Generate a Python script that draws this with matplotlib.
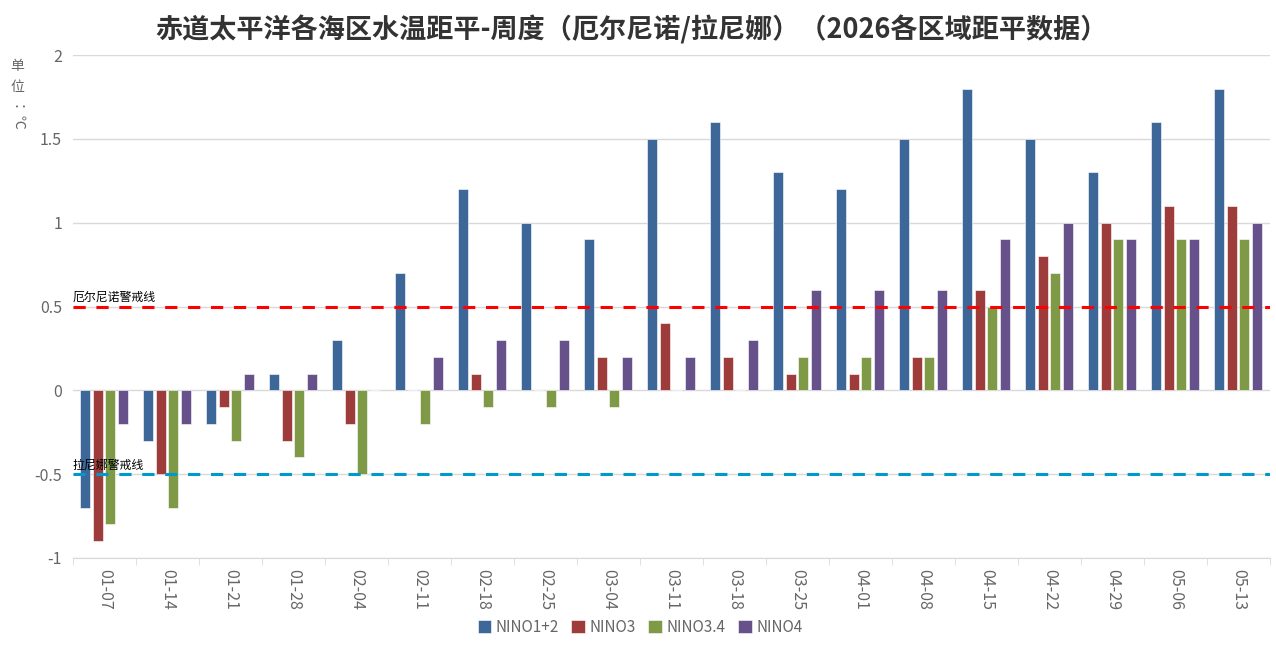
import numpy as np
import matplotlib
matplotlib.use("Agg")
import matplotlib.pyplot as plt

plt.rcParams['font.family'] = ['Noto Sans CJK SC', 'DejaVu Sans']

weeks = ["01-07", "01-14", "01-21", "01-28", "02-04", "02-11", "02-18", "02-25", "03-04", "03-11",
         "03-18", "03-25", "04-01", "04-08", "04-15", "04-22", "04-29", "05-06", "05-13"]
nino12 = [-0.7, -0.3, -0.2, 0.1, 0.3, 0.7, 1.2, 1.0, 0.9, 1.5, 1.6, 1.3, 1.2, 1.5, 1.8, 1.5, 1.3, 1.6, 1.8]
nino3 = [-0.9, -0.5, -0.1, -0.3, -0.2, 0.0, 0.1, 0.0, 0.2, 0.4, 0.2, 0.1, 0.1, 0.2, 0.6, 0.8, 1.0, 1.1, 1.1]
nino34 = [-0.8, -0.7, -0.3, -0.4, -0.5, -0.2, -0.1, -0.1, -0.1, 0.0, 0.0, 0.2, 0.2, 0.2, 0.5, 0.7, 0.9, 0.9, 0.9]
nino4 = [-0.2, -0.2, 0.1, 0.1, 0.0, 0.2, 0.3, 0.3, 0.2, 0.2, 0.3, 0.6, 0.6, 0.6, 0.9, 1.0, 0.9, 0.9, 1.0]
series_names = ["NINO1+2", "NINO3", "NINO3.4", "NINO4"]
el_nino_line = 0.5
la_nina_line = -0.5

colors = ["#3D6699", "#9E3C3B", "#7E9A46", "#67518A"]

fig = plt.figure(figsize=(12.76, 6.51), dpi=100)
ax = fig.add_axes([73 / 1276, 1 - 558 / 651, (1270 - 73) / 1276, (558 - 55) / 651])

x = np.arange(len(weeks))
bw = 0.16
step = 0.2
for i, (vals, name, c) in enumerate(zip([nino12, nino3, nino34, nino4], series_names, colors)):
    ax.bar(x + (i - 1.5) * step - 0.01, vals, width=bw, color=c, edgecolor="white", linewidth=0.4,
           label=name, zorder=3)

ax.axhline(el_nino_line, color="#FF0000", linestyle=(0, (4, 3.5)), linewidth=2.2, zorder=4)
ax.axhline(la_nina_line, color="#0099CC", linestyle=(0, (4, 3.5)), linewidth=2.2, zorder=4)
ax.text(-0.5, el_nino_line + 0.015, "厄尔尼诺警戒线", fontsize=8.6, color="black", va="bottom", ha="left", zorder=5)
ax.text(-0.5, la_nina_line + 0.015, "拉尼娜警戒线", fontsize=8.6, color="black", va="bottom", ha="left", zorder=5)

ax.set_xlim(-0.5, len(weeks) - 0.5)
ax.set_ylim(-1, 2)
ax.set_yticks([-1, -0.5, 0, 0.5, 1, 1.5, 2])
ax.set_yticklabels(["-1", "-0.5", "0", "0.5", "1", "1.5", "2"])
ax.grid(axis="y", color="#D9D9D9", linewidth=1, zorder=0)
ax.set_axisbelow(True)

ax.set_xticks(x)
ax.set_xticklabels(weeks)
ax.set_xticks(np.arange(len(weeks) + 1) - 0.5, minor=True)
ax.tick_params(axis="x", which="major", length=0, pad=8, labelsize=11.5, labelcolor="#666666",
               labelrotation=270)
ax.tick_params(axis="x", which="minor", length=5, color="#D9D9D9")
ax.tick_params(axis="y", length=0, labelsize=11.5, labelcolor="#666666", pad=8)

for s in ["top", "right", "left"]:
    ax.spines[s].set_visible(False)
ax.spines["bottom"].set_color("#D9D9D9")

fig.text(632 / 1276, 1 - 30 / 651, "赤道太平洋各海区水温距平-周度（厄尔尼诺/拉尼娜）（2026各区域距平数据）",
         ha="center", va="center", fontsize=19.5, fontweight="bold", color="#333333")

fig.text(17 / 1276, 1 - 66 / 651, "单", ha="center", va="center", fontsize=10, color="#666666")
fig.text(17 / 1276, 1 - 87 / 651, "位", ha="center", va="center", fontsize=10, color="#666666")
fig.text(17 / 1276, 1 - 118 / 651, "：℃", ha="center", va="center", fontsize=10, color="#666666", rotation=270)

ax.legend(loc="center", bbox_to_anchor=(640 / 1276, 1 - 627 / 651), bbox_transform=fig.transFigure,
          ncol=4, frameon=False, fontsize=11, handlelength=0.9, handleheight=0.9,
          columnspacing=0.8, handletextpad=0.3, labelcolor="#666666")

fig.savefig("out.png", dpi=100)
